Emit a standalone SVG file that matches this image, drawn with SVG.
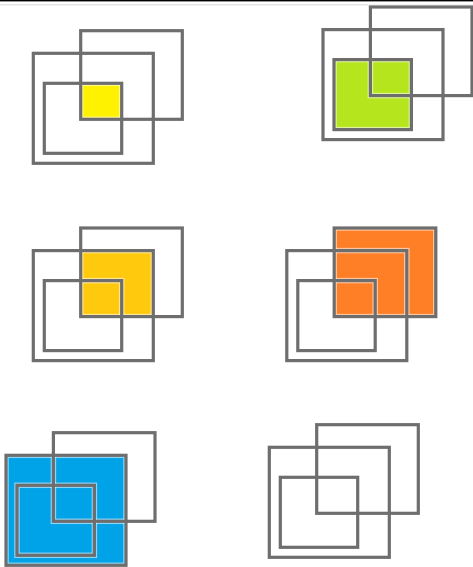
<svg xmlns="http://www.w3.org/2000/svg" xmlns:xlink="http://www.w3.org/1999/xlink" width="473" height="567" viewBox="0 0 473 567">
<style>
.halo{fill:none;stroke:#ffffff;stroke-opacity:0.55;stroke-width:5.5}
.line{fill:none;stroke:#6e6e6e;stroke-width:3.2}
</style>
<defs>
<g id="outlines">
<rect class="halo" x="80.7" y="30.7" width="101.6" height="88.6"/>
<rect class="halo" x="33.3" y="53.3" width="120" height="110"/>
<rect class="halo" x="44.3" y="83.3" width="77.4" height="70"/>
<rect class="line" x="80.7" y="30.7" width="101.6" height="88.6"/>
<rect class="line" x="33.3" y="53.3" width="120" height="110"/>
<rect class="line" x="44.3" y="83.3" width="77.4" height="70"/>
</g>
</defs>
<rect x="0" y="0" width="473" height="567" fill="#ffffff"/>
<rect x="0" y="0" width="473" height="1.4" fill="#000000"/>
<rect x="0" y="4" width="473" height="1.5" fill="#e4e4e4"/>
<g id="panel-intersection-all" transform="translate(0,0)">
<rect x="80.7" y="83.3" width="41" height="36" fill="#fff200"/>
<use xlink:href="#outlines"/>
</g>
<g id="panel-inner-set" transform="translate(289.7,-23.7)">
<rect x="44.3" y="83.3" width="77.4" height="70" fill="#b5e61d"/>
<use xlink:href="#outlines"/>
</g>
<g id="panel-intersection-ab" transform="translate(0,197.3)">
<rect x="80.7" y="53.3" width="72.6" height="66" fill="#ffc90e"/>
<use xlink:href="#outlines"/>
</g>
<g id="panel-set-a" transform="translate(253.5,197.3)">
<rect x="80.7" y="30.7" width="101.6" height="88.6" fill="#ff7f27"/>
<use xlink:href="#outlines"/>
</g>
<g id="panel-set-b" transform="translate(-27.3,402)">
<rect x="33.3" y="53.3" width="120" height="110" fill="#00a2e8"/>
<use xlink:href="#outlines"/>
</g>
<g id="panel-empty" transform="translate(236,394)">
<use xlink:href="#outlines"/>
</g>
<g id="connectors"/>
</svg>
